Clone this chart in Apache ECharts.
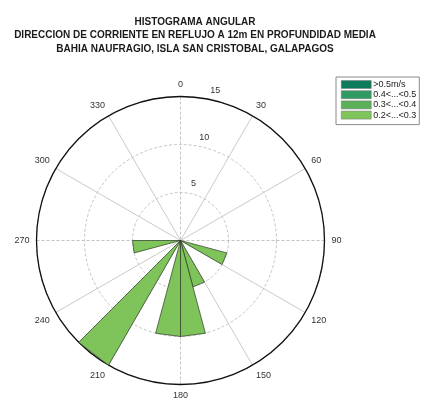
<!DOCTYPE html>
<html>
<head>
<meta charset="utf-8">
<script src="https://cdn.jsdelivr.net/npm/echarts@6/dist/echarts.min.js"></script>
<style>
  html, body { margin: 0; padding: 0; background: #fff; }
  #chart { width: 425px; height: 401px; }
</style>
</head>
<body>
<div id="chart"></div>
<script>
// Direction bins (degrees, start of each 15-degree sector)
const binStarts = [0, 15, 30, 45, 60, 75, 90, 105, 120, 135, 150, 165,
                   180, 195, 210, 225, 240, 255, 270, 285, 300, 315, 330, 345];
const binWidth = 15;

// Speed classes (innermost first) and their counts per bin
const speedClasses = ['0.2<...<0.3', '0.3<...<0.4', '0.4<...<0.5', '>0.5m/s'];
const classColors = ['#7fc45a', '#5bb05a', '#2f9a62', '#0e7c5b'];
const counts02_03 = [0, 0, 0, 0, 0, 0, 0, 5, 0, 0, 5, 10, 10, 0, 15, 0, 0, 5, 0, 0, 0, 0, 0, 0];
const counts03_04 = [0, 0, 0, 0, 0, 0, 0, 0, 0, 0, 0, 0, 0, 0, 0, 0, 0, 0, 0, 0, 0, 0, 0, 0];
const counts04_05 = [0, 0, 0, 0, 0, 0, 0, 0, 0, 0, 0, 0, 0, 0, 0, 0, 0, 0, 0, 0, 0, 0, 0, 0];
const counts05 = [0, 0, 0, 0, 0, 0, 0, 0, 0, 0, 0, 0, 0, 0, 0, 0, 0, 0, 0, 0, 0, 0, 0, 0];
const classCounts = [counts02_03, counts03_04, counts04_05, counts05];
const legendOrder = ['>0.5m/s', '0.4<...<0.5', '0.3<...<0.4', '0.2<...<0.3'];

// Radial ticks and angular tick spacing
const radialTicks = [5, 10, 15];
const radialMax = 15;
const angleTickStep = 30;

const chart = echarts.init(document.getElementById('chart'), null, { renderer: 'canvas' });

// Cumulative base for stacked sectors
function stackBase(classIdx, binIdx) {
  let s = 0;
  for (let k = 0; k < classIdx; k++) s += classCounts[k][binIdx];
  return s;
}

function roseSeries(classIdx) {
  const counts = classCounts[classIdx];
  return {
    name: speedClasses[classIdx],
    type: 'custom',
    coordinateSystem: 'polar',
    polarIndex: 0,
    z: 5,
    itemStyle: { color: classColors[classIdx] },
    data: counts.map((c, i) => [stackBase(classIdx, i) + c, binStarts[i] + binWidth / 2]),
    renderItem: function (params, api) {
      const i = params.dataIndex;
      const c = counts[i];
      if (!c) return null;
      const base = stackBase(classIdx, i);
      const top = base + c;
      const a0 = binStarts[i];
      const a1 = binStarts[i] + binWidth;
      const pts = [
        api.coord([base, a0]),
        api.coord([top, a0]),
        api.coord([top, a1]),
        api.coord([base, a1])
      ];
      return {
        type: 'polygon',
        shape: { points: pts },
        style: {
          fill: classColors[classIdx],
          stroke: '#2b3a22',
          lineWidth: 0.7
        }
      };
    }
  };
}

const option = {
  animation: false,
  backgroundColor: '#ffffff',
  color: classColors,
  title: {
    text: 'HISTOGRAMA ANGULAR\nDIRECCION DE CORRIENTE EN REFLUJO A 12m EN PROFUNDIDAD MEDIA\nBAHIA NAUFRAGIO, ISLA SAN CRISTOBAL, GALAPAGOS',
    left: 190,
    top: 10,
    textAlign: 'center',
    textStyle: {
      fontFamily: '"Liberation Sans", Arial, sans-serif',
      fontSize: 10,
      fontWeight: 'bold',
      color: '#1a1a1a',
      lineHeight: 13.5
    }
  },
  legend: {
    orient: 'vertical',
    left: 336,
    top: 77,
    padding: [3, 3, 5, 5],
    itemWidth: 30,
    itemHeight: 8,
    itemGap: 1.2,
    borderColor: '#8a8a8a',
    borderWidth: 1,
    backgroundColor: '#ffffff',
    data: legendOrder.map(n => ({ name: n, icon: 'rect' })),
    itemStyle: { borderColor: '#777', borderWidth: 0.5 },
    textStyle: {
      fontSize: 9,
      lineHeight: 9,
      color: '#222',
      padding: [0, 0, 0, -3],
      fontFamily: 'Arial, "Liberation Sans", sans-serif'
    },
    selectedMode: false
  },
  polar: [
    { center: [180.5, 240.5], radius: 144 },
    { center: [180.5, 240.5], radius: 144 }
  ],
  angleAxis: [
    {
      polarIndex: 0,
      type: 'value',
      min: 0,
      max: 360,
      interval: angleTickStep,
      startAngle: 90,
      clockwise: true,
      axisLine: { show: true, lineStyle: { color: '#111', width: 1.3 } },
      axisTick: { show: false },
      axisLabel: {
        show: true,
        margin: 7,
        fontSize: 9,
        color: '#333',
        fontFamily: 'Arial, "Liberation Sans", sans-serif',
        formatter: v => (v === 360 ? '' : String(v))
      },
      splitLine: {
        show: true,
        lineStyle: { color: ['rgba(0,0,0,0)', '#c4c4c4', '#c4c4c4'], width: 0.9 }
      },
      z: 3
    },
    {
      polarIndex: 1,
      type: 'value',
      min: 0,
      max: 360,
      interval: 90,
      startAngle: 90,
      clockwise: true,
      axisLine: { show: false },
      axisTick: { show: false },
      axisLabel: { show: false },
      splitLine: { show: true, lineStyle: { color: '#bdbdbd', width: 0.9, type: [3, 2] } },
      z: 2
    }
  ],
  radiusAxis: [
    {
      polarIndex: 0,
      type: 'value',
      min: 0,
      max: radialMax,
      interval: 5,
      axisLine: { show: false },
      axisTick: { show: false },
      axisLabel: { show: false },
      splitLine: { show: true, lineStyle: { color: '#bdbdbd', width: 0.9, type: [3, 2] } },
      z: 2
    },
    {
      polarIndex: 1,
      type: 'value',
      min: 0,
      max: radialMax,
      axisLine: { show: false },
      axisTick: { show: false },
      axisLabel: { show: false },
      splitLine: { show: false }
    }
  ],
  series: [
    roseSeries(0),
    roseSeries(1),
    roseSeries(2),
    roseSeries(3),
    {
      // Radial tick labels placed just outside each ring
      name: 'radial-labels',
      type: 'custom',
      coordinateSystem: 'polar',
      polarIndex: 0,
      silent: true,
      z: 6,
      data: radialTicks.map(t => [t, 13]),
      renderItem: function (params, api) {
        const t = radialTicks[params.dataIndex];
        const p = api.coord([t + 1.05, 13]);
        return {
          type: 'text',
          x: p[0],
          y: p[1],
          style: {
            text: String(t),
            fontSize: 9,
            fill: '#333',
            fontFamily: 'Arial, "Liberation Sans", sans-serif',
            align: 'center',
            verticalAlign: 'middle'
          }
        };
      }
    }
  ]
};

chart.setOption(option);
</script>
</body>
</html>
